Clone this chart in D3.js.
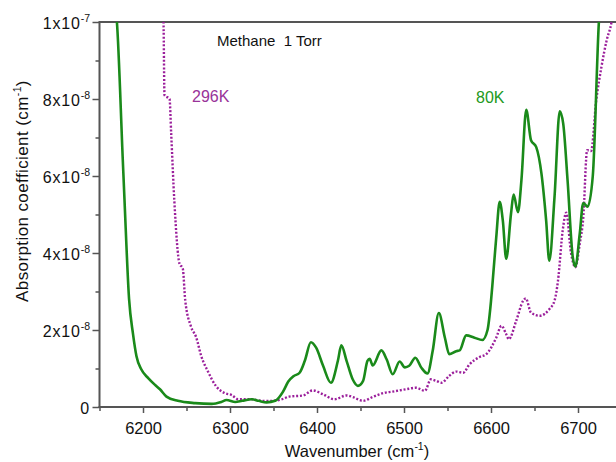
<!DOCTYPE html>
<html>
<head>
<meta charset="utf-8">
<script src="https://cdn.jsdelivr.net/npm/d3@7"></script>
<style>
  body { margin: 0; background: #fff; }
  text { font-family: "Liberation Sans", Arial, sans-serif; }
</style>
</head>
<body>
<div id="container"></div>
<script>
// absorption values are in units of 1e-8 cm-1
var wn80 = [6167, 6170, 6176.8, 6178.7, 6184, 6188.5, 6192.5, 6198, 6206, 6213.5, 6219.5, 6227, 6240, 6260,
  6279, 6290, 6296, 6306, 6314, 6325, 6333, 6342, 6352, 6361, 6367, 6373, 6380, 6386, 6393, 6399, 6407,
  6416, 6424, 6428, 6434, 6441, 6447, 6453, 6458, 6460.5, 6464, 6474, 6480, 6487, 6495, 6501, 6506, 6513,
  6520, 6527, 6533, 6540, 6547, 6552, 6560, 6564, 6571.5, 6581, 6590, 6596, 6600, 6602, 6606, 6610,
  6613.6, 6617.5, 6623, 6626, 6631, 6635, 6640.5, 6646, 6652, 6658, 6663.4, 6667, 6673, 6679, 6683,
  6688, 6694, 6697, 6702, 6706, 6711, 6717, 6724, 6727];
var abs80 = [10.6, 10.0, 6.4, 5.4, 2.8, 1.9, 1.32, 0.98, 0.75, 0.58, 0.46, 0.27, 0.16, 0.1,
  0.08, 0.13, 0.18, 0.13, 0.16, 0.2, 0.16, 0.12, 0.16, 0.4, 0.66, 0.8, 0.89, 1.2, 1.68, 1.54, 1.07,
  0.63, 1.2, 1.6, 1.2, 0.72, 0.55, 0.68, 1.2, 1.25, 1.08, 1.47, 1.24, 0.85, 1.18, 1.03, 1.07, 1.28,
  1.02, 0.87, 1.46, 2.44, 1.8, 1.37, 1.45, 1.47, 1.86, 1.8, 1.74, 2.0, 2.75, 3.28, 4.4, 5.33,
  4.84, 3.85, 5.02, 5.52, 5.06, 5.9, 7.72, 6.93, 6.75, 6.06, 4.84, 3.8, 5.45, 7.68, 7.36,
  5.89, 3.89, 3.65, 4.5, 5.3, 5.2, 6.0, 10.0, 11.0];

var wn296 = [6222.5, 6223.6, 6224.7, 6230.5, 6232.4, 6236, 6242, 6245.7, 6248.5, 6255, 6261, 6267, 6274.5,
  6284, 6294, 6302, 6309.5, 6325, 6336.5, 6348, 6359.5, 6368, 6384, 6395, 6407, 6420, 6434, 6441, 6453,
  6464, 6476, 6487, 6502, 6514, 6524, 6531, 6537, 6543, 6552, 6560, 6568, 6575, 6587, 6594.5, 6606,
  6612, 6617.5, 6620.5, 6629, 6637, 6640, 6646, 6656, 6667, 6673, 6677, 6682.5, 6686.5, 6692, 6697,
  6702, 6706, 6710.5, 6715, 6721, 6727, 6733, 6738.5, 6741];
var abs296 = [10.6, 10.0, 8.1, 8.0, 7.1, 5.36, 3.72, 3.6, 2.78, 2.1, 1.82, 1.32, 0.93,
  0.54, 0.36, 0.31, 0.2, 0.2, 0.16, 0.16, 0.2, 0.27, 0.3, 0.43, 0.33, 0.2, 0.3, 0.26, 0.16,
  0.26, 0.36, 0.4, 0.46, 0.5, 0.42, 0.72, 0.68, 0.63, 0.81, 0.92, 0.89, 1.1, 1.3, 1.37, 1.8,
  2.11, 1.89, 1.76, 2.24, 2.76, 2.82, 2.45, 2.37, 2.54, 2.76, 3.28, 4.6, 5.05, 4.0, 3.63,
  4.24, 4.9, 6.67, 6.65, 7.97, 8.84, 9.53, 10.0, 10.4];

var xTicks = [6200, 6300, 6400, 6500, 6600, 6700];
var xMinorTicks = [6150, 6250, 6350, 6450, 6550, 6650, 6750];
var yTicks = [0, 2, 4, 6, 8, 10];
var yMinorTicks = [1, 3, 5, 7, 9];
var yTickMantissa = ["0", "2x10", "4x10", "6x10", "8x10", "1x10"];
var yTickExponent = ["", "-8", "-8", "-8", "-8", "-7"];

var width = 616;
var height = 462;
var plotLeft = 99.5, plotRight = 621.5, plotTop = 22, plotBottom = 407;

var svg = d3.select("#container").append("svg")
  .attr("width", width).attr("height", height);

var x = d3.scaleLinear().domain([6150, 6750]).range([plotLeft, plotRight]);
var y = d3.scaleLinear().domain([0, 10]).range([plotBottom, plotTop]);

svg.append("clipPath").attr("id", "plotclip")
  .append("rect")
  .attr("x", plotLeft).attr("y", plotTop)
  .attr("width", width - plotLeft).attr("height", plotBottom - plotTop);

var axisColor = "#555";

// x axis
var gx = svg.append("g").attr("transform", "translate(0," + plotBottom + ")");
gx.call(d3.axisBottom(x).tickValues(xMinorTicks).tickSize(4).tickFormat(""));
var gxMajor = svg.append("g").attr("transform", "translate(0," + plotBottom + ")")
  .call(d3.axisBottom(x).tickValues(xTicks).tickSize(6).tickPadding(9).tickFormat(d3.format("d")));
gx.selectAll(".domain").remove();
gxMajor.selectAll(".domain").remove();
gxMajor.selectAll("text").attr("font-size", 16.5).attr("fill", "#111")
  .attr("font-family", "Liberation Sans, Arial, sans-serif");

// y axis
var gy = svg.append("g").attr("transform", "translate(" + plotLeft + ",0)");
gy.call(d3.axisLeft(y).tickValues(yMinorTicks).tickSize(4).tickFormat(""));
var gyMajor = svg.append("g").attr("transform", "translate(" + plotLeft + ",0)")
  .call(d3.axisLeft(y).tickValues(yTicks).tickSize(7).tickFormat(""));
gy.selectAll(".domain").remove();
gyMajor.selectAll(".domain").remove();
svg.selectAll("g line").attr("stroke", axisColor).attr("stroke-width", 1.5);

gyMajor.selectAll(".tick").each(function(d, i) {
  var t = d3.select(this).append("text")
    .attr("x", -9.5)
    .attr("y", 6)
    .attr("text-anchor", "end")
    .attr("fill", "#111")
    .attr("font-size", 16)
    .attr("font-family", "Liberation Sans, Arial, sans-serif");
  t.append("tspan").attr("letter-spacing", 0.8).text(yTickMantissa[i]);
  if (yTickExponent[i] !== "") {
    t.append("tspan").attr("dy", -7).attr("font-size", 10.5).text(yTickExponent[i]);
  }
});

// frame lines: left, bottom, top
svg.append("line").attr("x1", plotLeft).attr("x2", plotLeft).attr("y1", plotTop).attr("y2", plotBottom)
  .attr("stroke", axisColor).attr("stroke-width", 2);
svg.append("line").attr("x1", plotLeft - 1).attr("x2", width).attr("y1", plotBottom).attr("y2", plotBottom)
  .attr("stroke", axisColor).attr("stroke-width", 2);
svg.append("line").attr("x1", plotLeft - 1).attr("x2", width).attr("y1", plotTop).attr("y2", plotTop)
  .attr("stroke", axisColor).attr("stroke-width", 2);

// curves
var line = d3.line()
  .x(function(d) { return x(d[0]); })
  .y(function(d) { return y(d[1]); })
  .curve(d3.curveMonotoneX);

var plot = svg.append("g").attr("clip-path", "url(#plotclip)");

plot.append("path")
  .datum(d3.zip(wn296, abs296))
  .attr("d", line)
  .attr("fill", "none")
  .attr("stroke", "#9b1f9b")
  .attr("stroke-width", 2.4)
  .attr("stroke-dasharray", "2,1.8");

plot.append("path")
  .datum(d3.zip(wn80, abs80))
  .attr("d", line)
  .attr("fill", "none")
  .attr("stroke", "#1a8a1a")
  .attr("stroke-width", 2.6);

// labels
svg.append("text").attr("x", 217).attr("y", 46).attr("font-size", 15).attr("fill", "#111")
  .attr("xml:space", "preserve").text("Methane  1 Torr");
svg.append("text").attr("x", 192).attr("y", 102).attr("font-size", 16).attr("fill", "#993399")
  .text("296K");
svg.append("text").attr("x", 476).attr("y", 103).attr("font-size", 16).attr("fill", "#229922")
  .text("80K");

// axis titles
var xt = svg.append("text").attr("x", 357).attr("y", 457).attr("text-anchor", "middle")
  .attr("font-size", 16.5).attr("fill", "#111");
xt.append("tspan").text("Wavenumber (cm");
xt.append("tspan").attr("dy", -7).attr("font-size", 10.5).text("-1");
xt.append("tspan").attr("dy", 7).text(")");

var yt = svg.append("text").attr("transform", "translate(28,191) rotate(-90)")
  .attr("text-anchor", "middle").attr("font-size", 17).attr("letter-spacing", 0.4).attr("fill", "#111");
yt.append("tspan").text("Absorption coefficient (cm");
yt.append("tspan").attr("dy", -7).attr("font-size", 10.5).text("-1");
yt.append("tspan").attr("dy", 7).text(")");
</script>
</body>
</html>
